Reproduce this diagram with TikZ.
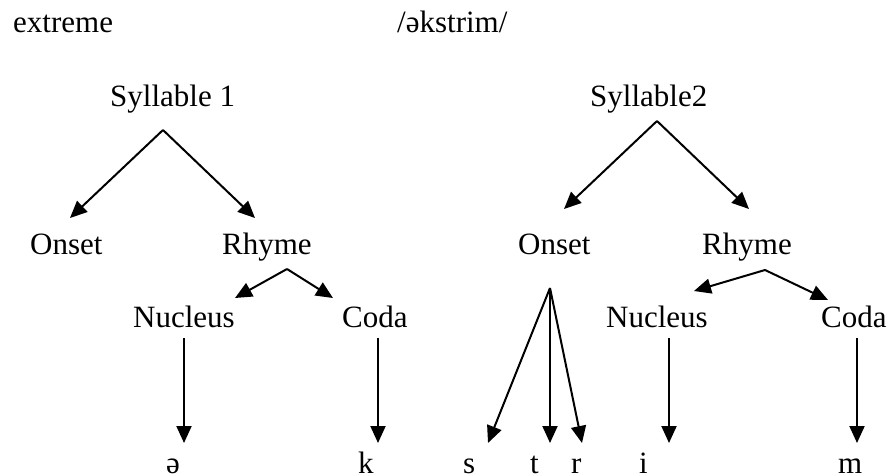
\documentclass[tikz,border=0pt]{standalone}
\usepackage{fontspec}
\setmainfont{Liberation Serif}
\usetikzlibrary{arrows.meta}
\begin{document}
\begin{tikzpicture}[x=1pt,y=-1pt,
  lbl/.style={inner sep=0pt,anchor=base west,font=\fontsize{31}{37}\selectfont},
  arr/.style={line width=2pt,-{Triangle[length=17pt,width=15pt]}}]
\useasboundingbox (0,0) rectangle (894,476);
% texts
\node[lbl] (word) at (13,33) {extreme};
\node[lbl] (ipa) at (397,33) {/əkstrim/};
\node[lbl] (syl1) at (110,107) {Syllable 1};
\node[lbl] (syl2) at (590,107) {Syllable2};
\node[lbl] (on1) at (30,254) {Onset};
\node[lbl] (rh1) at (222,254) {Rhyme};
\node[lbl] (on2) at (518,254) {Onset};
\node[lbl] (rh2) at (702,254) {Rhyme};
\node[lbl] (nu1) at (133,327) {Nucleus};
\node[lbl] (co1) at (342,327) {Coda};
\node[lbl] (nu2) at (606,327) {Nucleus};
\node[lbl] (co2) at (821,327) {Coda};
\node[lbl] (p1) at (166,473) {ə};
\node[lbl] (p2) at (358,473) {k};
\node[lbl] (p3) at (463,473) {s};
\node[lbl] (p4) at (530,473) {t};
\node[lbl] (p5) at (571,473) {r};
\node[lbl] (p6) at (639,473) {i};
\node[lbl] (p7) at (838,473) {m};
% connector points
\coordinate (s1top) at (163,130);
\coordinate (on1in) at (70,218);
\coordinate (rh1in) at (255,218);
\coordinate (s2top) at (657,121);
\coordinate (on2in) at (564,209);
\coordinate (rh2in) at (749,209);
\coordinate (rh1out) at (287,269);
\coordinate (nu1in) at (235,298);
\coordinate (co1in) at (333,298);
\coordinate (rh2out) at (765,270);
\coordinate (nu2in) at (694,291);
\coordinate (co2in) at (828,300);
\coordinate (nu1out) at (184,338);
\coordinate (p1in) at (184,443);
\coordinate (co1out) at (378,338);
\coordinate (p2in) at (378,443);
\coordinate (on2out) at (550,288);
\coordinate (p3in) at (488,443);
\coordinate (p4in) at (550,443);
\coordinate (p5in) at (582,443);
\coordinate (nu2out) at (669,338);
\coordinate (p6in) at (669,443);
\coordinate (co2out) at (857,338);
\coordinate (p7in) at (857,443);
% connectors
\draw[arr] (s1top) -- (on1in);
\draw[arr] (s1top) -- (rh1in);
\draw[arr] (s2top) -- (on2in);
\draw[arr] (s2top) -- (rh2in);
\draw[arr] (rh1out) -- (nu1in);
\draw[arr] (rh1out) -- (co1in);
\draw[arr] (rh2out) -- (nu2in);
\draw[arr] (rh2out) -- (co2in);
\draw[arr] (nu1out) -- (p1in);
\draw[arr] (co1out) -- (p2in);
\draw[arr] (on2out) -- (p3in);
\draw[arr] (on2out) -- (p4in);
\draw[arr] (on2out) -- (p5in);
\draw[arr] (nu2out) -- (p6in);
\draw[arr] (co2out) -- (p7in);
\end{tikzpicture}
\end{document}
